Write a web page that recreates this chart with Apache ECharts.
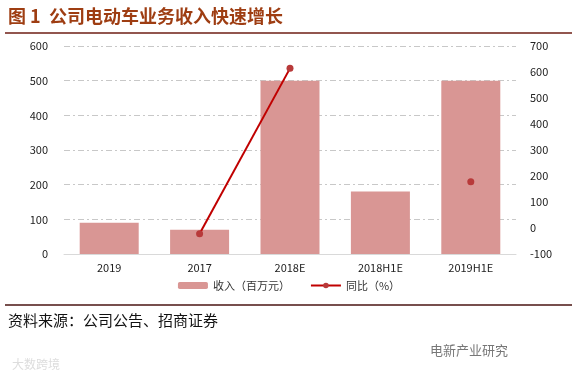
<!DOCTYPE html>
<html>
<head>
<meta charset="utf-8">
<script src="https://cdn.jsdelivr.net/npm/echarts@6/dist/echarts.min.js"></script>
<style>
  html, body { margin: 0; padding: 0; background: #fff; }
  #chart { width: 578px; height: 376px; }
</style>
</head>
<body>
<div id="chart"></div>
<script>
// 数据
const categories = ['2019', '2017', '2018E', '2018H1E', '2019H1E']
const revenue = [90, 70, 500, 180, 500] // 收入（百万元）
const yoy = [null, -22, 614, null, 178] // 同比（%）

const chart = echarts.init(document.getElementById('chart'))
const font = '"Noto Sans CJK SC", "Noto Sans", sans-serif'

const option = {
  backgroundColor: '#fff',
  animation: false,
  textStyle: { fontFamily: font },
  graphic: [
    {
      type: 'text', left: 8, top: 7,
      style: { text: '图 1  公司电动车业务收入快速增长', font: 'bold 18px ' + font, fill: '#9E3D12' }
    },
    {
      type: 'line', shape: { x1: 5, y1: 33, x2: 572, y2: 33 },
      style: { stroke: '#6E1E14', lineWidth: 1.5 }
    },
    {
      type: 'line', shape: { x1: 5, y1: 305, x2: 572, y2: 305 },
      style: { stroke: '#4A1512', lineWidth: 1.5 }
    },
    {
      type: 'text', left: 8, top: 313,
      style: { text: '资料来源：公司公告、招商证券', font: '15px ' + font, fill: '#111' }
    },
    {
      type: 'text', left: 430, top: 344,
      style: { text: '电新产业研究', font: '13px ' + font, fill: '#777' }
    },
    {
      type: 'text', left: 12, top: 358,
      style: { text: '大数跨境', font: '12px ' + font, fill: '#ddd' }
    }
  ],
  legend: {
    bottom: 80,
    left: 'center',
    itemWidth: 30,
    itemHeight: 7,
    itemGap: 20,
    textStyle: { fontSize: 11, color: '#333', fontFamily: font },
    data: ['收入（百万元）', '同比（%）']
  },
  grid: { left: 64, right: 62, top: 46, bottom: 122 },
  xAxis: {
    type: 'category',
    data: categories,
    axisTick: { show: false },
    axisLine: { lineStyle: { color: '#d9d9d9' } },
    axisLabel: { color: '#222', fontSize: 11, margin: 8 }
  },
  yAxis: [
    {
      type: 'value',
      min: 0, max: 600, interval: 100,
      axisLine: { show: false },
      axisTick: { show: false },
      axisLabel: { color: '#222', fontSize: 11, margin: 16 },
      splitLine: { lineStyle: { color: '#c8c8c8', type: [6, 3, 2, 3] } }
    },
    {
      type: 'value',
      min: -100, max: 700, interval: 100,
      axisLine: { show: false },
      axisTick: { show: false },
      axisLabel: { color: '#222', fontSize: 11, margin: 14 },
      splitLine: { show: false }
    }
  ],
  series: [
    {
      name: '收入（百万元）',
      type: 'bar',
      data: revenue,
      barWidth: 59,
      itemStyle: { color: '#D99694' }
    },
    {
      name: '同比（%）',
      type: 'line',
      yAxisIndex: 1,
      data: yoy,
      connectNulls: false,
      symbol: 'circle',
      symbolSize: 7,
      lineStyle: { color: '#C00000', width: 2 },
      itemStyle: { color: '#B83A3A' }
    }
  ]
}

chart.setOption(option)
</script>
</body>
</html>
